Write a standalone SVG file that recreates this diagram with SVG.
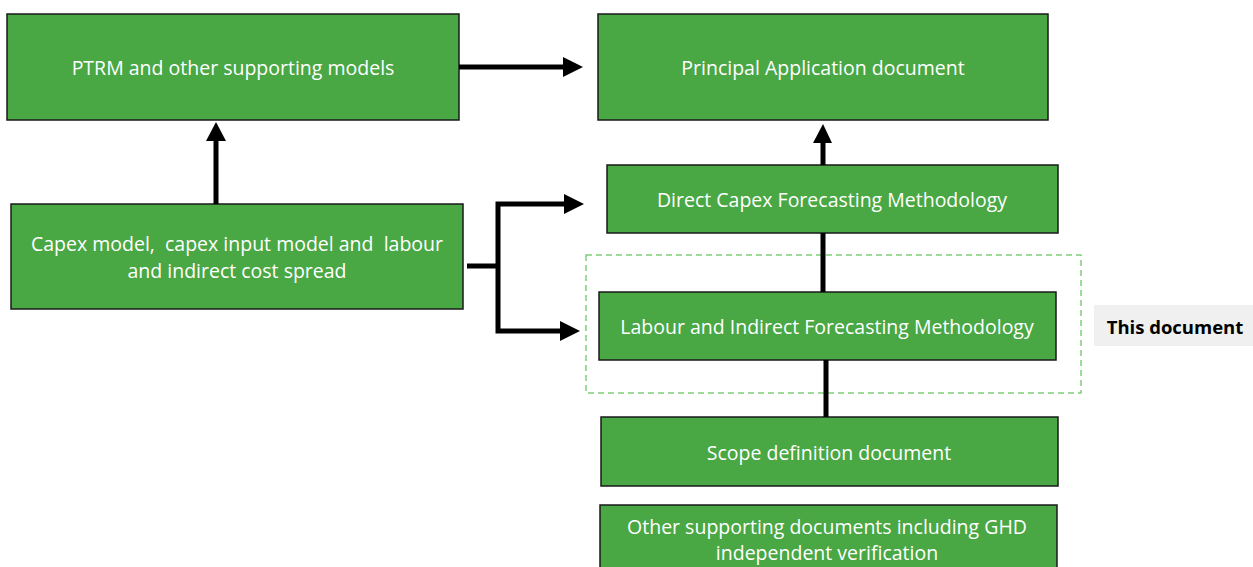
<svg xmlns="http://www.w3.org/2000/svg" width="1253" height="567" viewBox="0 0 1253 567">
<defs>
<style>
.box{fill:#49a744;stroke:#1a1a1a;stroke-width:1.5}
.t{font-family:"Open Sans","Liberation Sans",sans-serif;font-size:19.5px;fill:#ffffff;text-anchor:middle;dominant-baseline:central;white-space:pre}
.c{stroke:#000;stroke-width:5;fill:none}
.ah{fill:#000}
</style>
</defs>
<rect width="1253" height="567" fill="#ffffff"/>
<g id="ptrm"><rect class="box" x="7" y="14" width="452" height="106"/><text class="t" x="233" y="67">PTRM and other supporting models</text></g>
<g id="principal"><rect class="box" x="598" y="14" width="450" height="106"/><text class="t" x="823" y="67">Principal Application document</text></g>
<g id="capex"><rect class="box" x="11" y="204" width="452" height="105"/><text class="t" x="237" y="243" xml:space="preserve">Capex model,  capex input model and  labour</text><text class="t" x="237" y="270">and indirect cost spread</text></g>
<g id="direct"><rect class="box" x="607" y="165" width="451" height="68"/><text class="t" x="832" y="199">Direct Capex Forecasting Methodology</text></g>
<g id="this-doc-group"><rect x="586" y="255" width="495" height="138" fill="none" stroke="#7fcf7a" stroke-width="1.5" stroke-dasharray="6,4"/></g>
<g id="labour"><rect class="box" x="599" y="292" width="457" height="68"/><text class="t" x="827" y="326">Labour and Indirect Forecasting Methodology</text></g>
<g id="this-doc"><rect x="1094" y="305" width="159" height="41" fill="#f0f0f0"/><text x="1175" y="326" font-family="Open Sans,Liberation Sans,sans-serif" font-size="18.5" font-weight="bold" fill="#000" text-anchor="middle" dominant-baseline="central">This document</text></g>
<g id="scope"><rect class="box" x="601" y="417" width="457" height="69"/><text class="t" x="829" y="452">Scope definition document</text></g>
<g id="other"><rect class="box" x="600" y="505" width="457" height="70"/><text class="t" x="827" y="526">Other supporting documents including GHD</text><text class="t" x="827" y="552">independent verification</text></g>
<g id="connectors">
<line class="c" x1="459" y1="67" x2="566" y2="67"/><path class="ah" d="M563,57 L583,67 L563,77 Z"/>
<line class="c" x1="216" y1="204" x2="216" y2="140"/><path class="ah" d="M206,141 L216,122 L226,141 Z"/>
<line class="c" x1="823" y1="165" x2="823" y2="141"/><path class="ah" d="M813,143 L823,124 L832,143 Z"/>
<line class="c" x1="823" y1="233" x2="823" y2="292"/>
<line class="c" x1="826" y1="360" x2="826" y2="417"/>
<line class="c" x1="467" y1="266" x2="498" y2="266"/>
<polyline class="c" points="566,204 498,204 498,331 566,331"/>
<path class="ah" d="M564,194 L584,204 L564,214 Z"/>
<path class="ah" d="M560,321 L580,331 L560,341 Z"/>
</g>
</svg>
